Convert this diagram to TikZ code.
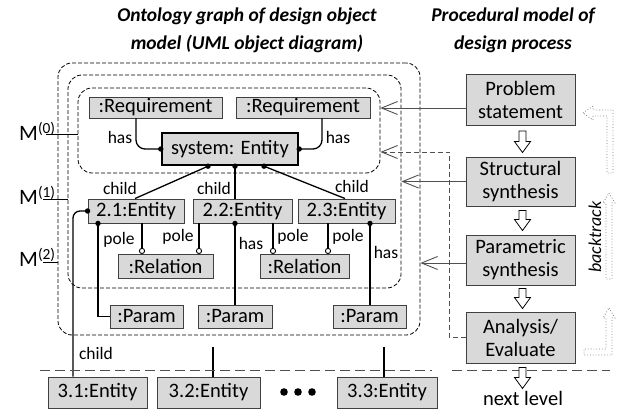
\documentclass[tikz,border=0pt]{standalone}
\usepackage{fontspec}
\setmainfont{Carlito}
\usetikzlibrary{arrows.meta,calc}
\definecolor{boxfill}{HTML}{D9D9D9}
\definecolor{edgec}{HTML}{404040}
\definecolor{lgray}{HTML}{505050}
\begin{document}
\begin{tikzpicture}[x=1pt,y=-1pt,
  obj/.style={draw=edgec,fill=boxfill,line width=0.9pt,inner sep=0pt,font=\fontsize{20.5}{23}\selectfont},
  proc/.style={obj,minimum width=109pt,align=center},
  lab/.style={font=\fontsize{17.5}{19}\selectfont,inner sep=0pt},
  conn/.style={line width=1.3pt,black},
  cont/.style={draw=black,dash pattern=on 4pt off 2pt,rounded corners=14pt,line width=0.8pt,inner sep=0pt},
  feed/.style={draw=lgray,line width=0.9pt,-{Straight Barb[length=16pt,width=13pt]}},
  blk/.style={draw=black,fill=white,line width=0.8pt},
  back/.style={draw=gray,dotted,line width=0.8pt},
  sepline/.style={draw=lgray,line width=1pt,dash pattern=on 10pt off 5pt},
  mline/.style={line width=0.9pt,black}
]
\useasboundingbox (0,0) rectangle (623,411);
\fill[white] (0,0) rectangle (623,411);

% titles
\node[font=\fontsize{19.5}{28}\selectfont\bfseries\itshape,align=center] (t1) at (247,30) {Ontology graph of design object\\model (UML object diagram)};
\node[font=\fontsize{19.5}{28}\selectfont\bfseries\itshape,align=center] (t2) at (513,30) {Procedural model of\\design process};

% containers
\node[cont,minimum width=362pt,minimum height=272pt] (c2) at (239,199) {};
\node[cont,minimum width=333pt,minimum height=213pt] (c1) at (234.5,181.5) {};
\node[cont,minimum width=302pt,minimum height=85pt] (c0) at (229,130.5) {};

% M labels
\node[anchor=base west,inner sep=0pt,font=\fontsize{22}{24}\selectfont] (m0) at (19,141) {M\textsuperscript{(0)}};
\node[anchor=base west,inner sep=0pt,font=\fontsize{22}{24}\selectfont] (m1) at (19,205) {M\textsuperscript{(1)}};
\node[anchor=base west,inner sep=0pt,font=\fontsize{22}{24}\selectfont] (m2) at (19,267) {M\textsuperscript{(2)}};
\coordinate (m0a) at ($(m0.base west)+(27,-7)$);
\coordinate (m1a) at ($(m1.base west)+(24,-6)$);
\coordinate (m2a) at ($(m2.base west)+(24,-5)$);
\draw[mline] (m0a) -- (m0a -| c0.west);
\draw[mline] (m1a) -- (m1a -| c1.west);
\draw[mline] (m2a) -- (m2a -| c2.west);

% object nodes
\node[obj,minimum width=133pt,minimum height=21pt] (req1) at (155.5,107.5) {:Requirement};
\node[obj,minimum width=134pt,minimum height=21pt] (req2) at (303,107.5) {:Requirement};
\node[obj,draw=black,line width=2.4pt,minimum width=136pt,minimum height=32pt] (sys) at (230,149) {system: Entity};
\node[obj,minimum width=96pt,minimum height=24pt] (e21) at (136,211) {2.1:Entity};
\node[obj,minimum width=99pt,minimum height=24pt] (e22) at (242.5,211) {2.2:Entity};
\node[obj,minimum width=97pt,minimum height=24pt] (e23) at (346.5,211) {2.3:Entity};
\node[obj,minimum width=95pt,minimum height=24pt] (rel1) at (165.5,266) {:Relation};
\node[obj,minimum width=89pt,minimum height=24pt] (rel2) at (304.5,266) {:Relation};
\node[obj,minimum width=73pt,minimum height=23pt] (par1) at (146.5,316.5) {:Param};
\node[obj,minimum width=74pt,minimum height=23pt] (par2) at (235,316.5) {:Param};
\node[obj,minimum width=73pt,minimum height=23pt] (par3) at (369.5,316.5) {:Param};
\node[obj,minimum width=99pt,minimum height=31pt] (e31) at (97.5,392.5) {3.1:Entity};
\node[obj,minimum width=103pt,minimum height=31pt] (e32) at (208.5,392.5) {3.2:Entity};
\node[obj,minimum width=100pt,minimum height=31pt] (e33) at (387,392.5) {3.3:Entity};

% process nodes
\node[proc,minimum height=51pt] (ps) at (520.5,100) {Problem\\statement};
\node[proc,minimum height=49pt] (ss) at (520.5,181.5) {Structural\\synthesis};
\node[proc,minimum height=50pt] (psy) at (520.5,260) {Parametric\\synthesis};
\node[proc,minimum height=51pt] (ae) at (520.5,337.5) {Analysis/\\Evaluate};

% has (requirements)
\draw[conn,rounded corners=9pt] ($(req1.south)+(-19.5,0)$) |- (sys.west);
\draw[conn,rounded corners=9pt] ($(req2.south)+(19,0)$) |- (sys.east);
\fill (sys.west) circle (2.7pt);
\fill (sys.east) circle (2.7pt);
\node[lab] (h1) at (120,137) {has};
\node[lab] (h2) at (338,137) {has};

% child edges
\coordinate (s1) at ($(sys.south)+(-22,0)$);
\coordinate (s2) at ($(sys.south)+(5,0)$);
\coordinate (s3) at ($(sys.south)+(34,0)$);
\draw[conn] (s1) -- ($(e21.north)+(-1,0)$);
\draw[conn] (s2) -- (s2 |- e22.north);
\draw[conn] (s3) -- ($(e23.north)+(-1.5,0)$);
\foreach \p in {s1,s2,s3} \fill (\p) circle (2.7pt);
\node[lab] (c1l) at (120,188) {child};
\node[lab] (c2l) at (214,188) {child};
\node[lab] (c3l) at (352,186) {child};

% child to 3.1
\draw[conn,rounded corners=7pt] (e21.west) -| ($(e31.north)+(-24.5,0)$);
\fill (e21.west) circle (2.7pt);
\node[lab] (c4l) at (96,353) {child};

% params
\coordinate (q1) at ($(e21.south)+(-38,0)$);
\coordinate (q2) at ($(e22.south)+(-7.5,0)$);
\coordinate (q3) at ($(e23.south)+(23.5,0)$);
\draw[conn] (q1) |- (par1.west);
\draw[conn] (q2) -- (q2 |- par2.north);
\draw[conn] (q3) -- (q3 |- par3.north);
\foreach \p in {q1,q2,q3} \fill (\p) circle (2.7pt);
\node[lab] (h3) at (251,243) {has};
\node[lab] (h4) at (386,252) {has};

% poles
\foreach \a/\b/\dx in {e21/rel1/6, e22/rel1/-43.5, e22/rel2/30.5, e23/rel2/-18.5}{
  \coordinate (pa) at ($(\a.south)+(\dx,0)$);
  \coordinate (pb) at ($(pa |- \b.north)+(0,-2.6)$);
  \draw[conn] (pa) -- (pb);
  \draw[line width=0.9pt,fill=white] (pb) circle (2.6pt);
}
\node[lab] (p1) at (119,240) {pole};
\node[lab] (p2) at (178,237) {pole};
\node[lab] (p3) at (293,237) {pole};
\node[lab] (p4) at (348,237) {pole};

% lower level
\coordinate (l32) at ($(e32.north)+(4.5,-30)$);
\coordinate (l33) at ($(e33.north)+(-3,-30)$);
\draw[conn] (l32) -- (l32 |- e32.north);
\draw[conn] (l33) -- (l33 |- e33.north);
\draw[sepline] (40,370) -- (432,370);
\draw[sepline] (452,370) -- (610,370);
\foreach \x in {284,298,312} \fill (\x,392) circle (3.8pt);

% feedback arrows
\coordinate (f1) at ($(ps.west)+(0,8)$);
\coordinate (f2) at (ss.west);
\coordinate (f3) at ($(psy.west)+(0,3)$);
\draw[feed] (f1) -- (f1 -| c0.east);
\draw[feed] (f2) -- (f2 -| c1.east);
\draw[feed] (f3) -- (f3 -| c2.east);
\coordinate (f4) at ($(c0.east)+(0,21.5)$);
\draw[feed,dash pattern=on 5pt off 3pt] (ae.west) -- ++(-16,0) |- (f4);

% block arrows down
\newcommand\blockdown[2]{%
  \draw[blk] let \p1=#1, \p2=#2 in
    (\x1-3.5pt,\y1) -- (\x1+3.5pt,\y1) -- (\x1+3.5pt,\y2+11pt) -- (\x1+8pt,\y2+11pt)
    -- (\x1,\y2) -- (\x1-8pt,\y2+11pt) -- (\x1-3.5pt,\y2+11pt) -- cycle;}
\blockdown{($(ps.south)+(2,5)$)}{($(ss.north)+(2,-4)$)}
\blockdown{($(ss.south)+(2,4)$)}{($(psy.north)+(2,-4)$)}
\blockdown{($(psy.south)+(2,3)$)}{($(ae.north)+(2,-3)$)}
\blockdown{($(ae.south)+(2,4)$)}{($(ae.south)+(2,25)$)}
\node[font=\fontsize{20.5}{23}\selectfont,inner sep=0pt] (nl) at (523,398) {next level};

% backtrack arrows
\draw[back] (583,113) -- (593,106) -- (593,110) -- (613,110) -- (613,173) -- (607,173) -- (607,116) -- (593,116) -- (593,120) -- cycle;
\draw[back] (609,193) -- (615,203) -- (612,203) -- (612,279) -- (606,279) -- (606,203) -- (603,203) -- cycle;
\draw[back] (609,308) -- (615,318) -- (612,318) -- (612,355) -- (584,355) -- (584,349) -- (606,349) -- (606,318) -- (603,318) -- cycle;
\node[rotate=90,font=\fontsize{18}{20}\selectfont\itshape,inner sep=0pt] (bt) at (595,237) {backtrack};
\end{tikzpicture}
\end{document}
